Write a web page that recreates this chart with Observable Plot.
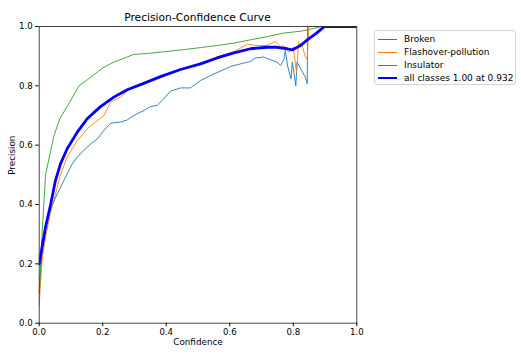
<!DOCTYPE html>
<html><head><meta charset="utf-8">
<script src="https://cdn.jsdelivr.net/npm/d3@7"></script>
<script src="https://cdn.jsdelivr.net/npm/@observablehq/plot@0.6"></script>
<style>
html,body{margin:0;padding:0;background:#fff;}
#wrap{position:relative;width:521px;height:355px;font-family:"DejaVu Sans",sans-serif;}
#title{position:absolute;left:38.7px;width:317.6px;top:11px;text-align:center;font-size:10.7px;line-height:13px;color:#000;}
#legend{position:absolute;left:374px;top:30px;width:142px;height:55px;border:1px solid #d5d5d5;border-radius:3px;box-sizing:border-box;background:#fff;font-size:9px;white-space:nowrap;}
.row{position:absolute;left:3px;height:13px;display:flex;align-items:center;}
.sw{width:19px;margin-right:7px;}
</style></head>
<body><div id="wrap"><div id="title">Precision-Confidence Curve</div><div id="legend"></div></div>
<script>
const seriesNames = ["Broken", "Flashover-pollution", "Insulator", "all classes 1.00 at 0.932"];
const seriesColors = ["#1f77b4", "#ff7f0e", "#2ca02c", "#0000ff"];
const seriesWidths = [0.9, 0.9, 0.9, 2.8];
const tickValues = [0, 0.2, 0.4, 0.6, 0.8, 1.0];

const brokenConf = [0,0.01,0.02,0.035,0.05,0.067,0.088,0.104,0.12,0.14,0.162,0.183,0.204,0.225,0.256,0.277,0.298,0.33,0.35,0.371,0.392,0.413,0.445,0.476,0.508,0.54,0.571,0.602,0.634,0.665,0.681,0.707,0.728,0.749,0.76,0.77,0.775,0.783,0.793,0.797,0.808,0.812,0.838,0.844,0.845,1.0];
const brokenPrec = [0.1,0.25,0.32,0.38,0.42,0.458,0.503,0.537,0.56,0.582,0.604,0.621,0.65,0.674,0.678,0.685,0.70,0.717,0.73,0.734,0.756,0.782,0.793,0.793,0.818,0.835,0.85,0.865,0.874,0.882,0.894,0.897,0.888,0.88,0.869,0.888,0.919,0.863,0.824,0.88,0.80,0.88,0.829,0.807,1.0,1.0];

const flashConf = [0,0.005,0.01,0.02,0.035,0.05,0.067,0.088,0.12,0.151,0.183,0.204,0.225,0.256,0.282,0.319,0.382,0.445,0.508,0.56,0.613,0.655,0.685,0.717,0.744,0.76,0.77,0.786,0.80,0.81,0.817,0.828,0.838,0.844,0.849,1.0];
const flashPrec = [0.06,0.15,0.22,0.29,0.37,0.43,0.50,0.56,0.616,0.655,0.683,0.70,0.745,0.762,0.787,0.806,0.832,0.856,0.876,0.897,0.915,0.94,0.936,0.936,0.95,0.93,0.936,0.913,0.93,0.846,0.947,0.936,0.897,0.89,1.0,1.0];

const insulConf = [0,0.009,0.02,0.036,0.046,0.065,0.088,0.104,0.125,0.151,0.183,0.204,0.235,0.267,0.298,0.35,0.403,0.455,0.508,0.56,0.613,0.665,0.718,0.77,0.823,0.854,0.886,1.0];
const insulPrec = [0.1,0.30,0.50,0.58,0.63,0.69,0.73,0.76,0.80,0.82,0.846,0.863,0.88,0.893,0.906,0.91,0.916,0.922,0.929,0.936,0.944,0.955,0.966,0.978,0.984,0.991,0.999,1.0];

const allConf = [0,0.009,0.02,0.036,0.051,0.067,0.088,0.12,0.151,0.193,0.235,0.277,0.319,0.382,0.445,0.508,0.56,0.613,0.665,0.718,0.749,0.781,0.796,0.823,0.844,0.87,0.896,0.90,1.0];
const allPrec = [0.20,0.256,0.324,0.40,0.48,0.537,0.588,0.644,0.689,0.73,0.762,0.787,0.804,0.831,0.855,0.874,0.894,0.911,0.925,0.930,0.930,0.925,0.921,0.936,0.955,0.975,0.998,1.0,1.0];

const confs = [brokenConf, flashConf, insulConf, allConf];
const precs = [brokenPrec, flashPrec, insulPrec, allPrec];
const data = [];
seriesNames.forEach((name, i) => confs[i].forEach((c, j) => data.push({series: name, conf: c, prec: precs[i][j]})));

const fmt = d3.format(".1f");
const chart = Plot.plot({
  width: 521, height: 355,
  marginLeft: 38.7, marginRight: 164.7, marginTop: 26, marginBottom: 32.3,
  style: {fontFamily: "DejaVu Sans, sans-serif", fontSize: "8.6px", background: "transparent", color: "#000"},
  x: {domain: [0, 1]},
  y: {domain: [0, 1]},
  marks: [
    ...seriesNames.map((name, i) => Plot.line(data.filter(d => d.series === name), {x: "conf", y: "prec", stroke: seriesColors[i], strokeWidth: seriesWidths[i], clip: true})),
    Plot.frame({stroke: "#333", strokeWidth: 0.9}),
    Plot.axisX({ticks: tickValues, tickFormat: fmt, tickSize: 3.5, tickPadding: 2.5, label: null, fontSize: 8.6}),
    Plot.axisY({ticks: tickValues, tickFormat: fmt, tickSize: 3.5, tickPadding: 3, label: null, fontSize: 8.6}),
    Plot.text(["Confidence"], {frameAnchor: "bottom", dy: 21.5, fontSize: 8.8}),
    Plot.text(["Precision"], {frameAnchor: "left", dx: -27.5, rotate: -90, fontSize: 8.8})
  ]
});
document.getElementById("wrap").prepend(chart);
chart.style.position = "absolute"; chart.style.left = "0"; chart.style.top = "0";
document.getElementById("wrap").querySelectorAll("#title,#legend").forEach(e => e.style.zIndex = 2);

const legend = document.getElementById("legend");
seriesNames.forEach((name, i) => {
  const row = document.createElement("div");
  row.className = "row";
  row.style.top = (1.5 + i * 13) + "px";
  const sw = document.createElement("div");
  sw.className = "sw";
  sw.style.borderTop = seriesWidths[i] + "px solid " + seriesColors[i];
  row.appendChild(sw);
  const t = document.createElement("span");
  t.textContent = name;
  row.appendChild(t);
  legend.appendChild(row);
});
</script></body></html>
